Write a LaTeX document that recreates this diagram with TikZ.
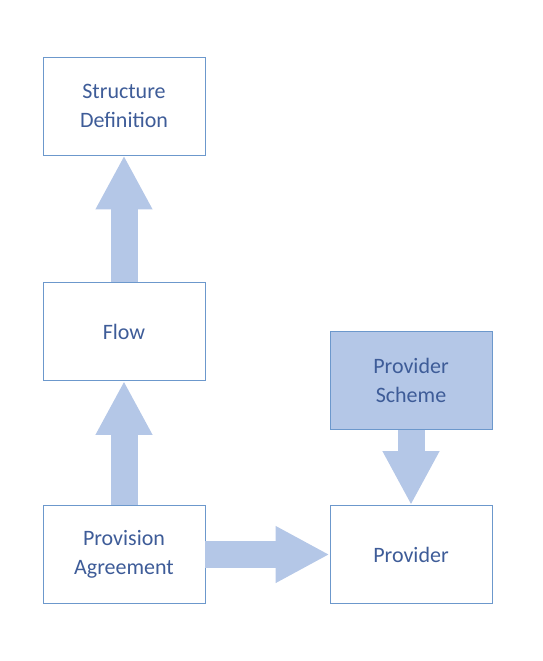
\documentclass[tikz,border=0pt]{standalone}
\usepackage{fontspec}
\setmainfont{Carlito}
\usetikzlibrary{arrows.meta}
\definecolor{boxline}{RGB}{108,152,204}
\definecolor{boxfill}{RGB}{180,199,231}
\definecolor{boxtext}{RGB}{62,92,152}
\begin{document}
\begin{tikzpicture}[x=1pt, y=-1pt,
    box/.style={draw=boxline, line width=0.9pt, minimum width=162pt, minimum height=98pt,
      align=center, text=boxtext, font=\fontsize{22}{28.5}\selectfont},
    fat/.style={draw=boxfill, line width=27pt, -{Triangle[width=53pt, length=54pt]}}]
    \useasboundingbox (0,0) rectangle (543,661);
    \node[box] (sd) at (124,106) {Structure\\Definition};
    \node[box] (flow) at (124,331.5) {Flow};
    \node[box] (pa) at (124,554.5) {Provision\\Agreement};
    \node[box, fill=boxfill] (ps) at (411,380.5) {Provider\\Scheme};
    \node[box] (prov) at (411,554.5) {Provider};

    \draw[fat] (flow.north) -- (sd.south);
    \draw[fat] (pa.north) -- (flow.south);
    \draw[fat] (pa.east) -- (prov.west);
    \draw[fat] (ps.south) -- (prov.north);
\end{tikzpicture}
\end{document}
